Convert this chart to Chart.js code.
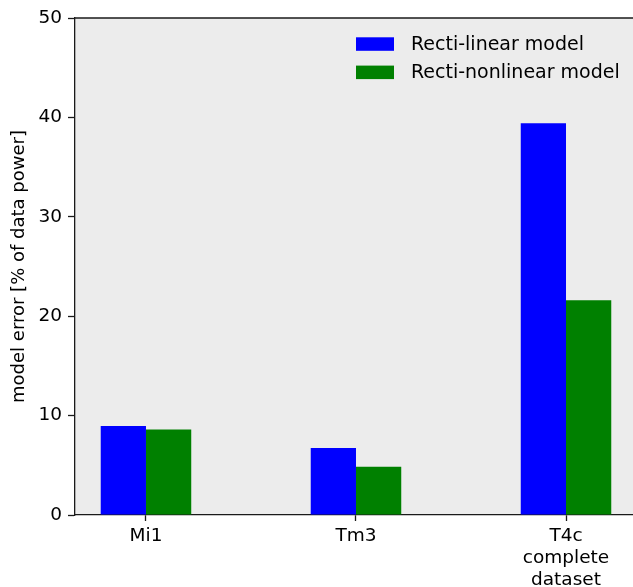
<!DOCTYPE html>
<html>
<head>
<meta charset="utf-8">
<script src="https://cdn.jsdelivr.net/npm/chart.js@4/dist/chart.umd.min.js"></script>
<style>
  html, body { margin: 0; padding: 0; background: #ffffff; overflow: hidden; }
  #wrap { width: 633px; height: 587px; }
</style>
</head>
<body>
<div id="wrap"><canvas id="c" width="633" height="587"></canvas></div>
<script>
// Cell types on the x axis (multi-line label for the last one)
const categories = ['Mi1', 'Tm3', ['T4c', 'complete', 'dataset']];
const categoryPositions = [0, 1, 2];

// Model error in % of data power
const linearModelError = [8.95, 6.75, 39.4];
const nonlinearModelError = [8.6, 4.85, 21.6];

const seriesNames = ['Recti-linear model', 'Recti-nonlinear model'];
const seriesColors = ['#0000ff', '#008000'];

const yTicks = [0, 10, 20, 30, 40, 50];
const yTitle = 'model error [% of data power]';

const FONT = '"DejaVu Sans", "Liberation Sans", sans-serif';
const INK = '#000000';
const SPINE = '#1a1a1a';

function toPoints(values) {
  return values.map((v, i) => ({ x: categoryPositions[i], y: v }));
}

// Grey plot background plus top spine
const panelPlugin = {
  id: 'panel',
  beforeDraw(chart) {
    const { ctx, chartArea: a } = chart;
    ctx.save();
    ctx.fillStyle = '#ececec';
    ctx.fillRect(a.left, a.top, a.right - a.left, a.bottom - a.top);
    ctx.restore();
  },
  afterDraw(chart) {
    const { ctx, chartArea: a } = chart;
    ctx.save();
    ctx.strokeStyle = SPINE;
    ctx.lineWidth = 1.3;
    ctx.beginPath();
    ctx.moveTo(a.left, a.top);
    ctx.lineTo(a.right, a.top);
    ctx.stroke();
    ctx.restore();
  }
};

// Legend box placed inside the plot, upper right
const insideLegend = {
  id: 'insideLegend',
  afterDraw(chart) {
    const { ctx, chartArea: a } = chart;
    const boxX = a.left + 281, boxW = 38, boxH = 13.5;
    const textX = a.left + 336;
    const rowGap = 28.3;
    const firstTop = a.top + 19.3;
    ctx.save();
    ctx.font = '19px ' + FONT;
    ctx.textBaseline = 'alphabetic';
    ctx.textAlign = 'left';
    chart.data.datasets.forEach((ds, i) => {
      const top = firstTop + i * rowGap;
      ctx.fillStyle = ds.backgroundColor;
      ctx.fillRect(boxX, top, boxW, boxH);
      ctx.fillStyle = INK;
      ctx.fillText(ds.label, textX, top + 12.5);
    });
    ctx.restore();
  }
};

new Chart(document.getElementById('c'), {
  type: 'bar',
  data: {
    datasets: [
      { label: seriesNames[0], data: toPoints(linearModelError), backgroundColor: seriesColors[0] },
      { label: seriesNames[1], data: toPoints(nonlinearModelError), backgroundColor: seriesColors[1] }
    ]
  },
  options: {
    responsive: false,
    animation: false,
    events: [],
    layout: { padding: { top: 18, right: 0, left: 0, bottom: 0 } },
    datasets: { bar: { barPercentage: 1.0, categoryPercentage: 0.431, borderWidth: 0 } },
    plugins: { legend: { display: false }, tooltip: { enabled: false } },
    scales: {
      x: {
        type: 'linear',
        offset: false,
        min: -0.338,
        max: 2.319,
        afterBuildTicks(scale) { scale.ticks = categoryPositions.map(v => ({ value: v })); },
        afterFit(scale) { scale.height = 72; },
        ticks: {
          autoSkip: false,
          maxRotation: 0,
          padding: 4,
          color: INK,
          font: { family: FONT, size: 18.5, lineHeight: 1.2 },
          callback(value) {
            const i = categoryPositions.indexOf(value);
            return i >= 0 ? categories[i] : '';
          }
        },
        grid: { offset: false, drawOnChartArea: false, drawTicks: true, tickLength: 6, tickWidth: 1.3, tickColor: SPINE },
        border: { display: true, color: SPINE, width: 1.3 }
      },
      y: {
        min: 0,
        max: 50,
        afterBuildTicks(scale) { scale.ticks = yTicks.map(v => ({ value: v })); },
        afterFit(scale) { scale.width = 75; },
        ticks: {
          padding: 6,
          color: INK,
          font: { family: FONT, size: 18.5 }
        },
        grid: { drawOnChartArea: false, drawTicks: true, tickLength: 7, tickWidth: 1.3, tickColor: SPINE },
        border: { display: true, color: SPINE, width: 1.3 },
        title: {
          display: true,
          text: yTitle,
          color: INK,
          font: { family: FONT, size: 18 },
          padding: { top: 9, bottom: 0 }
        }
      }
    }
  },
  plugins: [panelPlugin, insideLegend]
});
</script>
</body>
</html>
